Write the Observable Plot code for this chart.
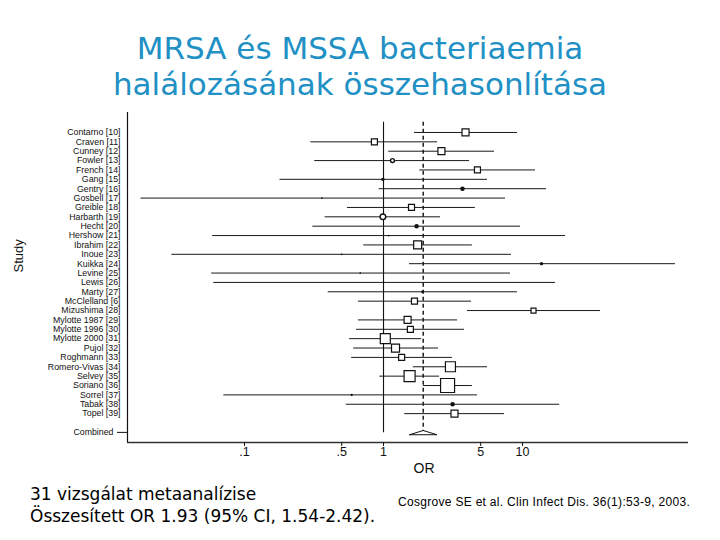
<!DOCTYPE html>
<html>
<head>
<meta charset="utf-8">
<script src="https://cdn.jsdelivr.net/npm/d3@7"></script>
<script src="https://cdn.jsdelivr.net/npm/@observablehq/plot@0.6"></script>
<style>
  html, body { margin: 0; padding: 0; background: #fff; }
  body { width: 720px; height: 540px; position: relative; overflow: hidden; }
  #title { position: absolute; top: 30px; left: 0; width: 720px; text-align: center;
    color: #2190c4; font-family: "DejaVu Sans", sans-serif; font-size: 31px; line-height: 36px; }
  #chart { position: absolute; top: 110px; left: 0; }
  #note1 { position: absolute; left: 30px; top: 483px; font-family: "DejaVu Sans", sans-serif;
    font-size: 17px; line-height: 22px; color: #000; }
  #cite { position: absolute; left: 398px; top: 495px; font-family: "Liberation Sans", sans-serif;
    font-size: 12px; letter-spacing: 0.3px; color: #000; }
</style>
</head>
<body>
<div id="title">MRSA és MSSA bacteriaemia<br>halálozásának összehasonlítása</div>
<div id="chart"></div>
<div id="note1">31 vizsgálat metaanalízise<br>Összesített OR 1.93 (95% CI, 1.54-2.42).</div>
<div id="cite">Cosgrove SE et al. Clin Infect Dis. 36(1):53-9, 2003.</div>
<script>
const studies = ["Contarno [10]", "Craven [11]", "Cunney [12]", "Fowler [13]", "French [14]", "Gang [15]",
  "Gentry [16]", "Gosbell [17]", "Greible [18]", "Harbarth [19]", "Hecht [20]", "Hershow [21]",
  "Ibrahim [22]", "Inoue [23]", "Kuikka [24]", "Levine [25]", "Lewis [26]", "Marty [27]",
  "McClelland [6]", "Mizushima [28]", "Mylotte 1987 [29]", "Mylotte 1996 [30]", "Mylotte 2000 [31]",
  "Pujol [32]", "Roghmann [33]", "Romero-Vivas [34]", "Selvey [35]", "Soriano [36]", "Sorrel [37]",
  "Tabak [38]", "Topel [39]"];
const oddsRatio = [3.89, 0.86, 2.61, 1.16, 4.74, 0.99, 3.70, 0.36, 1.59, 0.99, 1.73, 1.09, 1.76, 0.50,
  13.7, 0.68, 1.0, 1.91, 1.67, 12.0, 1.49, 1.56, 1.03, 1.22, 1.35, 3.03, 1.54, 2.89, 0.59, 3.14, 3.24];
const ciLow = [1.67, 0.30, 1.09, 0.32, 1.82, 0.18, 0.93, 0.018, 0.55, 0.38, 0.31, 0.059, 0.72, 0.030,
  1.54, 0.058, 0.06, 0.40, 0.66, 4.02, 0.66, 0.64, 0.57, 0.61, 0.59, 1.64, 0.94, 1.94, 0.071, 0.54, 1.42];
const ciHigh = [9.2, 2.45, 6.29, 4.16, 12.4, 5.6, 14.9, 7.55, 4.58, 2.57, 9.68, 20.4, 4.36, 8.33,
  126, 8.2, 17.3, 9.2, 4.3, 36.4, 3.41, 3.83, 1.88, 2.49, 3.13, 5.6, 2.53, 4.36, 4.74, 18.5, 7.43];
const weight = [7, 6, 7, 3.5, 6, 3, 4, 1.5, 6, 5, 4, 1.5, 8, 1.5, 3, 1.5, 1, 2.5, 6, 5, 7, 6, 10, 8, 6, 10, 11, 14, 2, 4, 7];
const markerKind = ["open","open","open","ring","open","fill","fill","fill","open","ring","fill","fill",
  "open","fill","fill","fill","fill","fill","open","open","open","open","open","open","open","open",
  "open","open","fill","fill","open"];
const combinedOR = 1.93, combinedLow = 1.54, combinedHigh = 2.42;
const xTicks = [0.1, 0.5, 1, 5, 10];
const xTickLabels = [".1", ".5", "1", "5", "10"];

const rows = d3.range(studies.length).map(i => ({
  row: i, name: studies[i], or: oddsRatio[i], lo: ciLow[i], hi: ciHigh[i], w: weight[i], kind: markerKind[i]
}));
const combinedRow = studies.length + 1;
const combinedShape = [
  {x: combinedLow, y: combinedRow + 0.25},
  {x: combinedOR, y: combinedRow - 0.2},
  {x: combinedHigh, y: combinedRow + 0.25},
  {x: combinedLow, y: combinedRow + 0.25}
];
const xTickRows = xTicks.map((v, i) => ({v, label: xTickLabels[i]}));
const yBottom = 33.08;

const chart = Plot.plot({
  width: 720,
  height: 370,
  marginLeft: 127,
  marginRight: 32,
  marginTop: 2,
  marginBottom: 38,
  style: {fontFamily: "Liberation Sans, Arial, sans-serif", background: "#fff", color: "#111"},
  x: {type: "log", domain: [0.01439, 156.4], axis: null},
  y: {domain: [-2.13, yBottom], reverse: true},
  r: {type: "linear", domain: [0, 10], range: [0, 10 / 1.7725]},
  marks: [
    Plot.ruleX([0.01439], {stroke: "#111", strokeWidth: 1.2}),
    Plot.ruleY([yBottom], {stroke: "#333", strokeWidth: 1.5}),
    Plot.ruleX([1], {y1: -1.1, y2: combinedRow + 0.05, stroke: "#111", strokeWidth: 1.1}),
    Plot.ruleX([combinedOR], {y1: -1.1, y2: combinedRow - 0.1, stroke: "#111", strokeWidth: 1.4, strokeDasharray: "4,3"}),
    Plot.ruleY(rows, {y: "row", x1: "lo", x2: "hi", stroke: "#1a1a1a", strokeWidth: 1}),
    Plot.dot(rows.filter(d => d.kind === "open"), {x: "or", y: "row", r: "w", symbol: "square", stroke: "#111", fill: "#fff", strokeWidth: 1.2}),
    Plot.dot(rows.filter(d => d.kind === "ring"), {x: "or", y: "row", r: "w", symbol: "circle", stroke: "#111", fill: "#fff", strokeWidth: 1.4}),
    Plot.dot(rows.filter(d => d.kind === "fill"), {x: "or", y: "row", r: "w", symbol: "circle", fill: "#111", stroke: "none"}),
    Plot.line(combinedShape, {x: "x", y: "y", stroke: "#111", strokeWidth: 1}),
    Plot.axisY(d3.range(studies.length), {tickFormat: i => studies[i], tickSize: 0, tickPadding: 7, fontSize: 8.8, fill: "#111", label: null}),
    Plot.axisY([combinedRow], {tickFormat: () => "Combined", tickSize: 10, tickPadding: 4, fontSize: 8.8, fill: "#111", label: null}),
    Plot.ruleX(xTickRows, {x: "v", y1: yBottom, y2: yBottom, insetBottom: -4, stroke: "#111", strokeWidth: 1}),
    Plot.text(xTickRows, {x: "v", text: "label", frameAnchor: "bottom", dy: 13, fontSize: 12.5, fill: "#111"}),
    Plot.text(["OR"], {frameAnchor: "bottom", dx: 16, dy: 30, fontSize: 14, fill: "#111"}),
    Plot.text(["Study"], {frameAnchor: "left", dx: -109, dy: -5, rotate: -90, fontSize: 13, fill: "#111"})
  ]
});
document.getElementById("chart").appendChild(chart);
</script>
</body>
</html>
